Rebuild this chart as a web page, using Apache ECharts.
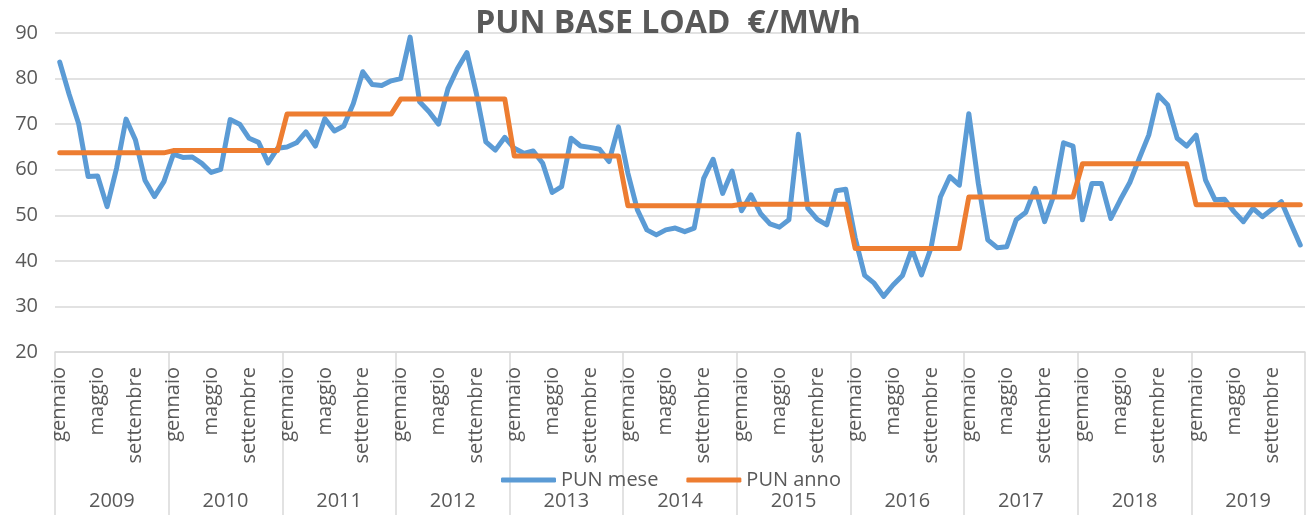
<!DOCTYPE html>
<html>
<head>
<meta charset="utf-8">
<script src="https://cdn.jsdelivr.net/npm/echarts@6/dist/echarts.min.js"></script>
<style>
html,body{margin:0;padding:0;background:#fff;}
#chart{width:1307px;height:515px;}
</style>
</head>
<body>
<div id="chart"></div>
<script>
const years = ['2009','2010','2011','2012','2013','2014','2015','2016','2017','2018','2019'];
const monthNames = ['gennaio','febbraio','marzo','aprile','maggio','giugno','luglio','agosto','settembre','ottobre','novembre','dicembre'];
const shownMonths = ['gennaio','maggio','settembre'];

const punMese = [
  83.6, 76.5, 70.1, 58.5, 58.6, 51.9, 60.3, 71.1, 66.5, 57.7, 54.1, 57.4,
  63.4, 62.7, 62.8, 61.4, 59.4, 60.1, 71.0, 70.0, 66.9, 66.0, 61.5, 64.7,
  65.0, 65.9, 68.3, 65.2, 71.2, 68.5, 69.6, 74.5, 81.5, 78.7, 78.5, 79.5,
  80.0, 89.1, 74.9, 72.7, 70.0, 77.8, 82.2, 85.7, 76.7, 66.1, 64.3, 67.1,
  64.7, 63.6, 64.1, 61.4, 55.0, 56.3, 66.9, 65.2, 64.9, 64.5, 61.8, 69.4,
  59.2, 51.2, 46.8, 45.7, 46.8, 47.2, 46.4, 47.2, 58.1, 62.3, 54.8, 59.7,
  51.0, 54.5, 50.4, 48.1, 47.4, 49.0, 67.8, 51.5, 49.1, 47.9, 55.4, 55.7,
  45.0, 36.8, 35.1, 32.2, 34.7, 36.8, 42.6, 36.9, 42.8, 54.0, 58.5, 56.6,
  72.3, 57.0, 44.6, 42.9, 43.1, 49.0, 50.6, 55.9, 48.6, 54.5, 65.9, 65.2,
  49.0, 57.0, 57.0, 49.3, 53.4, 57.2, 62.5, 67.6, 76.4, 74.2, 66.9, 65.2,
  67.6, 57.7, 53.4, 53.5, 50.8, 48.6, 51.5, 49.7, 51.3, 53.0, 48.2, 43.5
];
const punAnnoByYear = [63.7, 64.2, 72.2, 75.5, 63.0, 52.1, 52.4, 42.7, 54.0, 61.3, 52.3];

const categories = [];
const punAnno = [];
years.forEach((y, yi) => {
  monthNames.forEach(m => {
    categories.push(m + ' ' + y);
    punAnno.push(punAnnoByYear[yi]);
  });
});

const FONT = 'Open Sans';
const TXT = '#595959';
const GRID = '#d9d9d9';

const chart = echarts.init(document.getElementById('chart'), null, {renderer: 'canvas'});
chart.setOption({
  animation: false,
  backgroundColor: '#fff',
  title: {
    text: 'PUN BASE LOAD  €/MWh',
    left: 663,
    textAlign: 'center',
    top: 3,
    textStyle: {fontFamily: FONT, fontWeight: 'bold', fontSize: 32, color: TXT}
  },
  legend: {
    left: 496,
    top: 465,
    itemWidth: 55,
    itemHeight: 5,
    itemGap: 28,
    icon: 'roundRect',
    textStyle: {fontFamily: FONT, fontSize: 20, color: TXT},
    data: ['PUN mese', 'PUN anno']
  },
  grid: {left: 55, right: 2, top: 33, bottom: 163, containLabel: false},
  xAxis: [
    {
      type: 'category',
      data: categories,
      boundaryGap: true,
      axisLine: {show: true, lineStyle: {color: GRID, width: 1.5}},
      axisTick: {show: false},
      axisLabel: {
        interval: 0,
        rotate: 90,
        margin: 15,
        fontFamily: FONT,
        fontSize: 20,
        color: TXT,
        formatter: function (v) {
          const m = v.split(' ')[0];
          return shownMonths.indexOf(m) >= 0 ? m : '';
        }
      },
      splitLine: {show: false}
    },
    {
      type: 'category',
      data: years,
      position: 'bottom',
      boundaryGap: true,
      axisLine: {show: false},
      axisTick: {show: true, length: 170, lineStyle: {color: GRID, width: 1.5}},
      axisLabel: {margin: 139, fontFamily: FONT, fontSize: 20, color: TXT},
      splitLine: {show: false}
    }
  ],
  yAxis: {
    type: 'value',
    min: 20,
    max: 90,
    interval: 10,
    axisLine: {show: false},
    axisTick: {show: false},
    axisLabel: {fontFamily: FONT, fontSize: 20, color: TXT, margin: 17},
    splitLine: {show: true, lineStyle: {color: GRID, width: 1.5}}
  },
  series: [
    {
      name: 'PUN mese',
      type: 'line',
      data: punMese,
      showSymbol: false,
      symbol: 'none',
      lineStyle: {color: '#5b9bd5', width: 5, cap: 'round', join: 'round'},
      itemStyle: {color: '#5b9bd5'}
    },
    {
      name: 'PUN anno',
      type: 'line',
      data: punAnno,
      showSymbol: false,
      symbol: 'none',
      lineStyle: {color: '#ed7d31', width: 5, cap: 'round', join: 'round'},
      itemStyle: {color: '#ed7d31'}
    }
  ]
});
</script>
</body>
</html>
